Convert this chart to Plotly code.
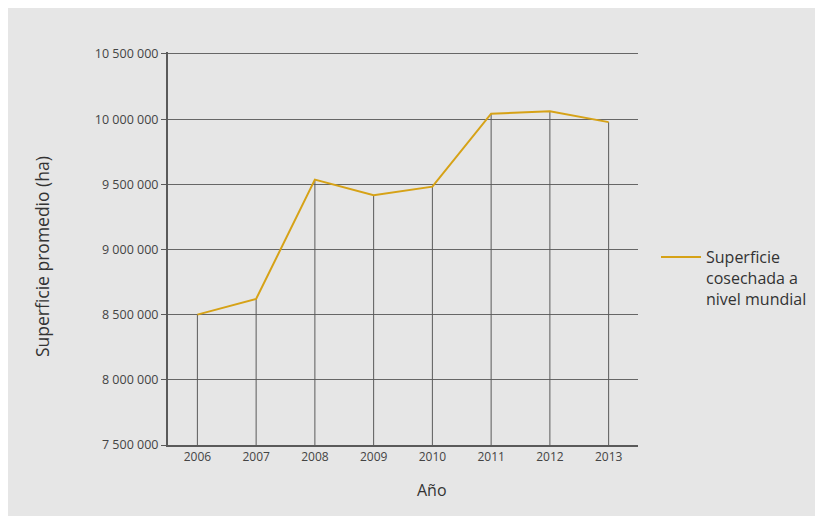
import plotly.graph_objects as go

years = [2006, 2007, 2008, 2009, 2010, 2011, 2012, 2013]
superficie = [8500000, 8620000, 9536000, 9417000, 9482000, 10042000, 10060000, 9977000]
y_base = 7500000
y_top = 10500000
tick_vals = [7500000, 8000000, 8500000, 9000000, 9500000, 10000000, 10500000]
series_name = "Superficie<br>cosechada a<br>nivel mundial"

W, H = 815, 508
ml, mr, mt, mb = 160, 185, 44, 71
pw, ph = W - ml - mr, H - mt - mb

fig = go.Figure()

# drop lines from each point to the x axis (error bars)
fig.add_trace(go.Scatter(
    x=years, y=superficie, mode="markers",
    marker=dict(size=0.1, opacity=0),
    error_y=dict(type="data", symmetric=False,
                 array=[0] * len(years),
                 arrayminus=[v - y_base for v in superficie],
                 color="#5a5a5a", thickness=1, width=0),
    showlegend=False, hoverinfo="skip"))

fig.add_trace(go.Scatter(
    x=years, y=superficie, mode="lines", name=series_name,
    line=dict(color="#d6a217", width=2)))

fig.add_annotation(text="Superficie promedio (ha)", xref="paper", yref="paper",
                   x=(34 - ml) / pw, y=(H - mb - 249) / ph, textangle=-90,
                   showarrow=False, xanchor="center", yanchor="middle",
                   font=dict(family="Open Sans", size=17.5, color="#333333"))
fig.add_annotation(text="Año", xref="paper", yref="paper",
                   x=(424 - ml) / pw, y=(H - mb - 482) / ph,
                   showarrow=False, xanchor="center", yanchor="middle",
                   font=dict(family="Open Sans", size=16, color="#333333"))

fig.update_layout(
    width=W, height=H,
    margin=dict(l=ml, r=mr, t=mt, b=mb, autoexpand=False),
    paper_bgcolor="#e6e6e6", plot_bgcolor="#e6e6e6",
    separators=", ",
    font=dict(family="Open Sans", color="#444444", size=12),
    xaxis=dict(range=[2005.5, 2013.5], tickvals=years, showgrid=False,
               showline=True, linecolor="#5a5a5a", linewidth=2,
               ticks="", zeroline=False,
               tickfont=dict(size=12, color="#444444")),
    yaxis=dict(range=[y_base, y_top + 15000], tickvals=tick_vals, tickformat=",.0f",
               showgrid=True, gridcolor="#666666", gridwidth=1,
               showline=True, linecolor="#5a5a5a", linewidth=2,
               ticks="outside", ticklen=5, tickcolor="#5a5a5a",
               zeroline=False, tickfont=dict(size=12.5, color="#444444")),
    legend=dict(x=(648 - ml) / pw, y=(H - mb - 232) / ph,
                xanchor="left", yanchor="top", valign="top",
                itemwidth=40,
                bgcolor="rgba(0,0,0,0)",
                font=dict(family="Open Sans", size=16, color="#333333")),
    showlegend=True,
)

fig.write_html("out.html")
